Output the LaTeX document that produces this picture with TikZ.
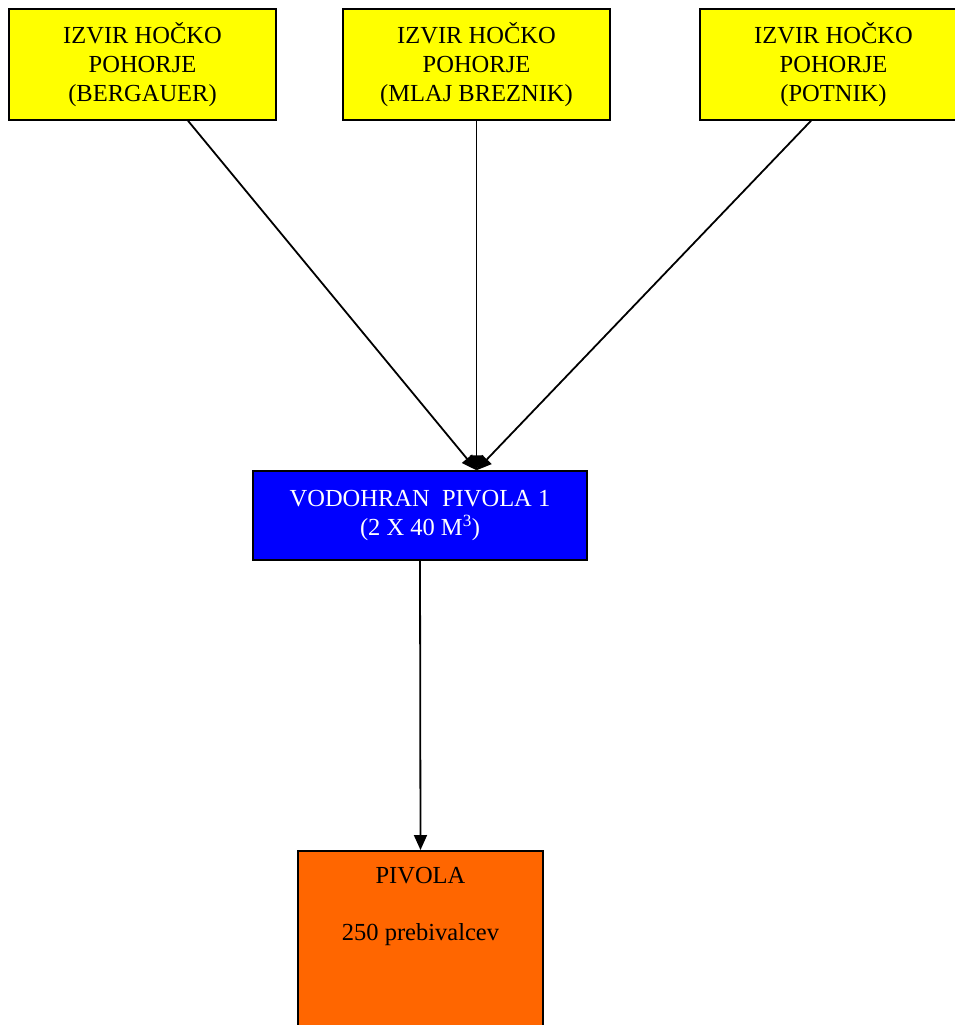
\documentclass[tikz,border=0pt]{standalone}
\usepackage{fontspec}
\setmainfont{Liberation Serif}
\usetikzlibrary{arrows.meta,calc}
\definecolor{srcyellow}{HTML}{FFFF00}
\definecolor{tankblue}{HTML}{0000FF}
\definecolor{townorange}{HTML}{FF6600}
\begin{document}
\begin{tikzpicture}[x=1pt,y=-1pt,
  srcbox/.style={draw=black, fill=srcyellow, line width=1.5pt, minimum width=267pt, minimum height=111pt, inner sep=0pt, align=center, font=\fontsize{24.5}{29}\selectfont},
  tankbox/.style={draw=black, fill=tankblue, text=white, line width=1.5pt, minimum width=334pt, minimum height=89pt, inner sep=0pt, align=center, font=\fontsize{24.5}{29}\selectfont},
  townbox/.style={draw=black, fill=townorange, line width=1.5pt, minimum width=245pt, minimum height=240pt, inner sep=0pt},
  lbl/.style={font=\fontsize{24.5}{29}\selectfont, inner sep=0pt},
  arr/.style={line width=1.8pt, -{Triangle[length=15pt,width=13pt]}}]
\useasboundingbox (0,0) rectangle (955,1025);
\clip (0,0) rectangle (955,1025);
\fill[white] (0,0) rectangle (955,1025);
\node[srcbox] (b1) at (142.5,64.5) {IZVIR HOČKO\\POHORJE\\(BERGAUER)};
\node[srcbox] (b2) at (476.5,64.5) {IZVIR HOČKO\\POHORJE\\(MLAJ BREZNIK)};
\node[srcbox] (b3) at (833.5,64.5) {IZVIR HOČKO\\POHORJE\\(POTNIK)};
\node[tankbox] (tank) at (420,515.5) {VODOHRAN\ \ PIVOLA 1\\(2 X 40 M\textsuperscript{3})};
\node[townbox, anchor=north] (town) at (420.5,850) {};
\node[lbl, anchor=base] (tname) at (420.5,883) {PIVOLA};
\node[lbl, anchor=base] (tpop) at (420.5,940) {250 prebivalcev};
\coordinate (in) at (tank.north -| b2.south);
\draw[arr] ([xshift=45.5pt]b1.south) -- (in);
\draw[arr] (b2.south) -- (in);
\draw[arr] ([xshift=-22.5pt]b3.south) -- (in);
\draw[arr] (tank.south) -- (town.north);
\end{tikzpicture}
\end{document}
